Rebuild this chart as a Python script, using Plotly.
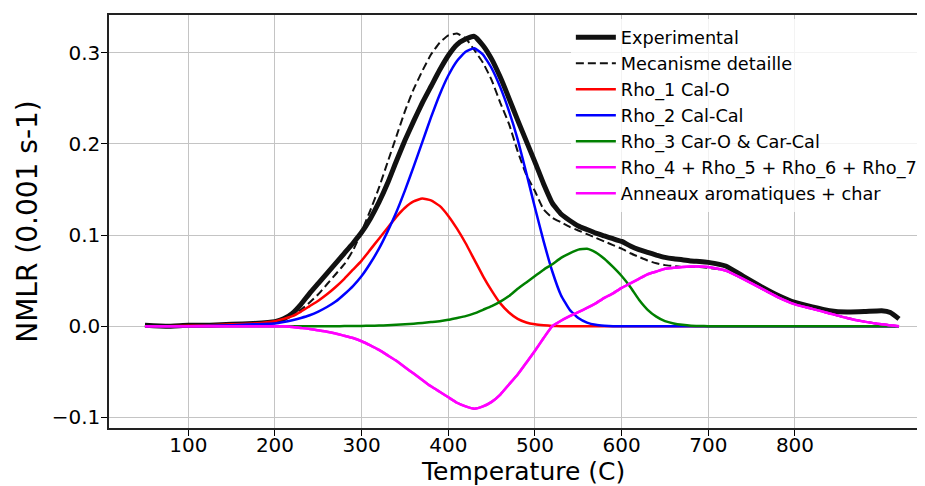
import plotly.graph_objects as go

temperature = [50, 75, 100, 125, 150, 175, 200, 210, 220, 230, 240, 250, 260, 270, 280, 290,
               300, 310, 320, 330, 340, 350, 360, 370, 380, 390, 400, 410, 420, 430, 440, 450,
               460, 470, 480, 490, 500, 510, 520, 530, 540, 550, 560, 570, 580, 590, 600, 610,
               620, 630, 640, 650, 660, 670, 680, 690, 700, 720, 740, 760, 780, 800, 820, 840,
               860, 880, 900, 910, 920]

experimental = [0.001, 0.0, 0.001, 0.001, 0.002, 0.003, 0.005, 0.008, 0.014, 0.024, 0.036, 0.047,
                0.058, 0.069, 0.080, 0.091, 0.103, 0.118, 0.136, 0.157, 0.181, 0.204, 0.225, 0.245,
                0.263, 0.281, 0.297, 0.309, 0.315, 0.318, 0.308, 0.293, 0.273, 0.250, 0.226, 0.203,
                0.180, 0.156, 0.135, 0.123, 0.116, 0.110, 0.106, 0.102, 0.099, 0.096, 0.093, 0.088,
                0.084, 0.081, 0.078, 0.0755, 0.074, 0.073, 0.0715, 0.071, 0.070, 0.066, 0.055, 0.044,
                0.034, 0.026, 0.021, 0.017, 0.0155, 0.016, 0.017, 0.015, 0.008]

mecanisme = [0.0, 0.0, 0.0005, 0.001, 0.0015, 0.003, 0.005, 0.008, 0.012, 0.018, 0.026, 0.035,
             0.046, 0.057, 0.068, 0.083, 0.104, 0.127, 0.152, 0.180, 0.208, 0.236, 0.260, 0.280,
             0.298, 0.311, 0.319, 0.321, 0.316, 0.303, 0.289, 0.270, 0.245, 0.222, 0.192, 0.166,
             0.148, 0.128, 0.119, 0.114, 0.109, 0.105, 0.101, 0.097, 0.093, 0.089, 0.085, 0.080,
             0.076, 0.072, 0.069, 0.067, 0.066, 0.065, 0.065, 0.065, 0.064, 0.061, 0.052, 0.042,
             0.032, 0.024, 0.019, 0.014, 0.009, 0.005, 0.002, 0.001, 0.0]

rho1 = [0.0, 0.0, 0.0005, 0.001, 0.002, 0.003, 0.0055, 0.008, 0.011, 0.016, 0.022, 0.028,
        0.035, 0.043, 0.052, 0.062, 0.072, 0.084, 0.096, 0.108, 0.120, 0.130, 0.137, 0.140,
        0.138, 0.132, 0.121, 0.107, 0.091, 0.073, 0.055, 0.039, 0.025, 0.015, 0.008, 0.004,
        0.002, 0.001, 0.0003, 0.0, 0.0, 0.0, 0.0, 0.0, 0.0, 0.0, 0.0, 0.0,
        0.0, 0.0, 0.0, 0.0, 0.0, 0.0, 0.0, 0.0, 0.0, 0.0, 0.0, 0.0,
        0.0, 0.0, 0.0, 0.0, 0.0, 0.0, 0.0, 0.0, 0.0]

rho2 = [0.0, 0.0, 0.0, 0.0005, 0.001, 0.002, 0.003, 0.0045, 0.0065, 0.009, 0.012, 0.016,
        0.021, 0.027, 0.035, 0.044, 0.055, 0.069, 0.085, 0.104, 0.125, 0.149, 0.175, 0.202,
        0.229, 0.254, 0.275, 0.291, 0.301, 0.305, 0.298, 0.283, 0.262, 0.236, 0.205, 0.168,
        0.130, 0.093, 0.060, 0.034, 0.018, 0.009, 0.004, 0.0015, 0.0005, 0.0, 0.0, 0.0,
        0.0, 0.0, 0.0, 0.0, 0.0, 0.0, 0.0, 0.0, 0.0, 0.0, 0.0, 0.0,
        0.0, 0.0, 0.0, 0.0, 0.0, 0.0, 0.0, 0.0, 0.0]

rho3 = [0.0, 0.0, 0.0, 0.0, 0.0, 0.0, 0.0, 0.0, 0.0, 0.0, 0.0, 0.0,
        0.0, 0.0, 0.0001, 0.0002, 0.0003, 0.0005, 0.0007, 0.001, 0.0015, 0.002, 0.0027, 0.0035,
        0.0045, 0.0055, 0.007, 0.009, 0.011, 0.014, 0.018, 0.022, 0.027, 0.033, 0.041, 0.048,
        0.055, 0.062, 0.068, 0.075, 0.080, 0.084, 0.085, 0.081, 0.074, 0.065, 0.055, 0.043,
        0.029, 0.018, 0.0105, 0.0055, 0.003, 0.0015, 0.0005, 0.0002, 0.0, 0.0, 0.0, 0.0,
        0.0, 0.0, 0.0, 0.0, 0.0, 0.0, 0.0, 0.0, 0.0]

rho4567 = [0.0, 0.0, 0.0, 0.0, 0.0, 0.0, 0.0, -0.0002, -0.001, -0.002, -0.003, -0.0045,
           -0.006, -0.008, -0.0105, -0.013, -0.0165, -0.021, -0.026, -0.032, -0.038, -0.045, -0.052, -0.059,
           -0.066, -0.072, -0.078, -0.084, -0.088, -0.0905, -0.088, -0.083, -0.075, -0.064, -0.053, -0.040,
           -0.027, -0.013, 0.0, 0.006, 0.011, 0.0155, 0.020, 0.025, 0.031, 0.036, 0.042, 0.047,
           0.052, 0.057, 0.060, 0.063, 0.064, 0.065, 0.0655, 0.0655, 0.065, 0.061, 0.052, 0.042,
           0.032, 0.024, 0.019, 0.014, 0.009, 0.005, 0.002, 0.001, 0.0]

anneaux = rho4567

x_ticks = [100, 200, 300, 400, 500, 600, 700, 800]
y_ticks = [-0.1, 0.0, 0.1, 0.2, 0.3]
y_tick_labels = ["\u22120.1", "0.0", "0.1", "0.2", "0.3"]

FONT = "DejaVu Sans"

fig = go.Figure()
series = [
    ("Experimental", experimental, dict(color="#111111", width=5)),
    ("Mecanisme detaille", mecanisme, dict(color="#111111", width=2, dash="8px,4px")),
    ("Rho_1 Cal-O", rho1, dict(color="#ff0000", width=2.5)),
    ("Rho_2 Cal-Cal", rho2, dict(color="#0000ff", width=2.5)),
    ("Rho_3 Car-O & Car-Cal", rho3, dict(color="#008000", width=2.5)),
    ("Rho_4 + Rho_5 + Rho_6 + Rho_7", rho4567, dict(color="#ff00ff", width=2.5)),
    ("Anneaux aromatiques + char", anneaux, dict(color="#ff00ff", width=2.5)),
]
for name, vals, line in series:
    fig.add_trace(go.Scatter(x=temperature, y=vals, mode="lines", name=name,
                             line=dict(shape="spline", smoothing=0.4, **line)))

# page body has an 8px margin: figure is sized so it ends exactly at the 925x486 window edge
fig.update_layout(
    width=917, height=478,
    margin=dict(l=101, r=0, t=7, b=58),
    paper_bgcolor="white", plot_bgcolor="white",
    font=dict(family=FONT, color="black"),
    showlegend=True,
    legend=dict(x=0.566, y=0.99, xanchor="left", yanchor="top",
                bgcolor="rgba(255,255,255,0.8)", borderwidth=0,
                font=dict(family=FONT, size=17.7, color="black"),
                itemwidth=40),
)
fig.update_xaxes(range=[8.5, 950], tickvals=x_ticks, ticks="outside", ticklen=6, tickwidth=1.2,
                 tickcolor="black", showline=True, linecolor="#222222", linewidth=1.5, mirror=True,
                 showgrid=True, gridcolor="#c4c4c4", gridwidth=1.2, zeroline=False, automargin=False,
                 ticklabelstandoff=-8,
                 tickfont=dict(family=FONT, size=20, color="black"))
fig.update_yaxes(range=[-0.1117, 0.3414], tickvals=y_ticks, ticktext=y_tick_labels, ticks="outside",
                 ticklen=6, tickwidth=1.2, tickcolor="black", showline=True, linecolor="#222222",
                 linewidth=1.5, mirror=False, showgrid=True, gridcolor="#c4c4c4", gridwidth=1.2,
                 zeroline=False, automargin=False, ticklabelstandoff=-3,
                 tickfont=dict(family=FONT, size=20, color="black"),
                 title=dict(text="NMLR (0.001 s-1)", font=dict(family=FONT, size=28, color="black"),
                            standoff=6))
fig.add_annotation(text="Temperature (C)", x=486, xref="x", y=-0.1425, yref="paper",
                   xanchor="center", yanchor="bottom", showarrow=False, borderpad=0,
                   font=dict(family=FONT, size=25, color="black"))

fig.write_html("out.html")
